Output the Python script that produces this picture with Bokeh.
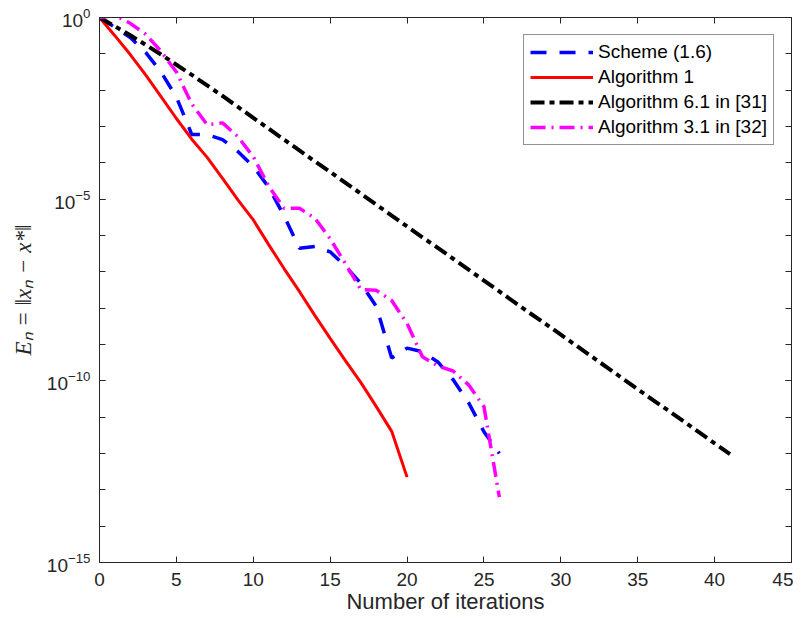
from bokeh.plotting import figure
from bokeh.models import (FixedTicker, LinearAxis, LogAxis, Legend, LegendItem, Range1d,
                          CustomJSTickFormatter)
from bokeh.embed import file_html
from bokeh.resources import INLINE

# ---- data (log10 of the error E_n) ----
scheme_iter = list(range(27))
scheme_log10 = [0.0, -0.27, -0.55, -0.96, -1.50, -2.19, -3.22, -3.22, -3.36, -3.69,
                -4.10, -4.67, -5.46, -6.35, -6.30, -6.45, -6.85, -7.32, -7.95, -9.37,
                -9.10, -9.20, -9.48, -9.97, -10.60, -11.40, -12.00]

alg1_iter = list(range(21))
alg1_log10 = [0.0, -0.50, -1.02, -1.58, -2.18, -2.78, -3.35, -3.85, -4.43, -5.02,
              -5.57, -6.25, -6.91, -7.54, -8.20, -8.83, -9.45, -10.05, -10.71, -11.39,
              -12.65]

alg61_iter = list(range(42))
alg61_log10 = [0.0, -0.24, -0.49, -0.75, -1.02, -1.30, -1.58, -1.87, -2.16, -2.46,
               -2.76, -3.06, -3.36, -3.66, -3.96, -4.25, -4.55, -4.85, -5.15, -5.45,
               -5.75, -6.05, -6.34, -6.64, -6.94, -7.24, -7.54, -7.84, -8.14, -8.43,
               -8.73, -9.03, -9.33, -9.63, -9.93, -10.23, -10.53, -10.82, -11.12, -11.42,
               -11.72, -12.02]

alg31_iter = list(range(27))
alg31_log10 = [0.0, 0.06, -0.16, -0.46, -0.93, -1.50, -2.38, -2.95, -2.90, -3.28,
               -3.83, -4.64, -5.25, -5.25, -5.52, -6.09, -6.78, -7.49, -7.51, -7.79,
               -8.42, -9.34, -9.59, -9.73, -10.11, -10.71, -13.20]

x_ticks = [0, 5, 10, 15, 20, 25, 30, 35, 40, 45]
y_major_exp = [-15, -10, -5, 0]
y_minor_exp = list(range(-15, 1))

labels = ["Scheme (1.6)", "Algorithm 1", "Algorithm 6.1 in [31]", "Algorithm 3.1 in [32]"]

AX = "#262626"
FONT = "Liberation Sans"

def vals(logs):
    return [10.0 ** v for v in logs]

y_major = [10.0 ** e for e in y_major_exp]
y_minor = [10.0 ** e for e in y_minor_exp]

p = figure(x_range=Range1d(0, 45), y_range=Range1d(1e-15, 1.0), y_axis_type="log",
           frame_width=692, frame_height=545,
           min_border_left=99, min_border_top=17, min_border_right=2, min_border_bottom=56,
           output_backend="svg", toolbar_location=None)

p.background_fill_color = "white"
p.border_fill_color = "white"
p.outline_line_color = AX
p.outline_line_width = 1
p.xgrid.visible = False
p.ygrid.visible = False

def style_axis(ax):
    ax.axis_line_color = AX
    ax.axis_line_width = 1
    ax.major_tick_line_color = AX
    ax.minor_tick_line_color = AX
    ax.major_tick_in = 6
    ax.major_tick_out = 0
    ax.minor_tick_in = 6
    ax.minor_tick_out = 0
    ax.major_label_text_color = AX
    ax.major_label_text_font = FONT
    ax.major_label_text_font_size = "19px"
    ax.axis_label_text_color = AX

# bottom x axis
xa = p.xaxis[0]
xa.ticker = FixedTicker(ticks=x_ticks)
style_axis(xa)
xa.minor_tick_line_color = None
xa.major_label_standoff = 10
xa.axis_label = "Number of iterations"
xa.axis_label_text_font = FONT
xa.axis_label_text_font_size = "22px"
xa.axis_label_text_font_style = "normal"
xa.axis_label_standoff = 0

# left y axis
ya = p.yaxis[0]
ya.ticker = FixedTicker(ticks=y_major, minor_ticks=y_minor)
style_axis(ya)
ya.major_label_standoff = 9
ya.axis_label = "Eₙ = ‖xₙ − x*‖"
ya.axis_label_text_font = "Liberation Serif"
ya.axis_label_text_font_size = "23px"
ya.axis_label_text_font_style = "italic"
ya.axis_label_standoff = 8

# mirrored axes (top / right) with ticks only
blank = CustomJSTickFormatter(code="return '';")

top = LinearAxis(ticker=FixedTicker(ticks=x_ticks), formatter=blank)
style_axis(top)
top.minor_tick_line_color = None
top.major_label_text_font_size = "1px"
top.major_label_text_color = None
top.major_label_standoff = 0
p.add_layout(top, "above")

right = LogAxis(ticker=FixedTicker(ticks=y_major, minor_ticks=y_minor), formatter=blank)
style_axis(right)
right.major_label_text_font_size = "1px"
right.major_label_text_color = None
right.major_label_standoff = 0
p.add_layout(right, "right")

# curves
r_scheme = p.line(scheme_iter, vals(scheme_log10), line_color="#0000ff", line_width=3.5,
                  line_dash="16 13")
r_alg1 = p.line(alg1_iter, vals(alg1_log10), line_color="#ff0000", line_width=3)
r_alg61 = p.line(alg61_iter, vals(alg61_log10), line_color="#000000", line_width=4,
                 line_dash="14 5 5 5")
r_alg31 = p.line(alg31_iter, vals(alg31_log10), line_color="#ff00ff", line_width=3.5,
                 line_dash="15 6 2 6")

legend = Legend(items=[LegendItem(label=labels[0], renderers=[r_scheme]),
                       LegendItem(label=labels[1], renderers=[r_alg1]),
                       LegendItem(label=labels[2], renderers=[r_alg61]),
                       LegendItem(label=labels[3], renderers=[r_alg31])],
                location="top_right")
legend.label_text_font = FONT
legend.label_text_font_size = "19px"
legend.label_text_color = "#000000"
legend.glyph_width = 63
legend.glyph_height = 22
legend.label_height = 22
legend.label_standoff = 5
legend.spacing = 3
legend.padding = 6
legend.margin = 17
legend.border_line_color = AX
legend.border_line_width = 1
legend.background_fill_color = "white"
legend.background_fill_alpha = 1.0
p.add_layout(legend)

open("out.html", "w").write(file_html(p, INLINE))
